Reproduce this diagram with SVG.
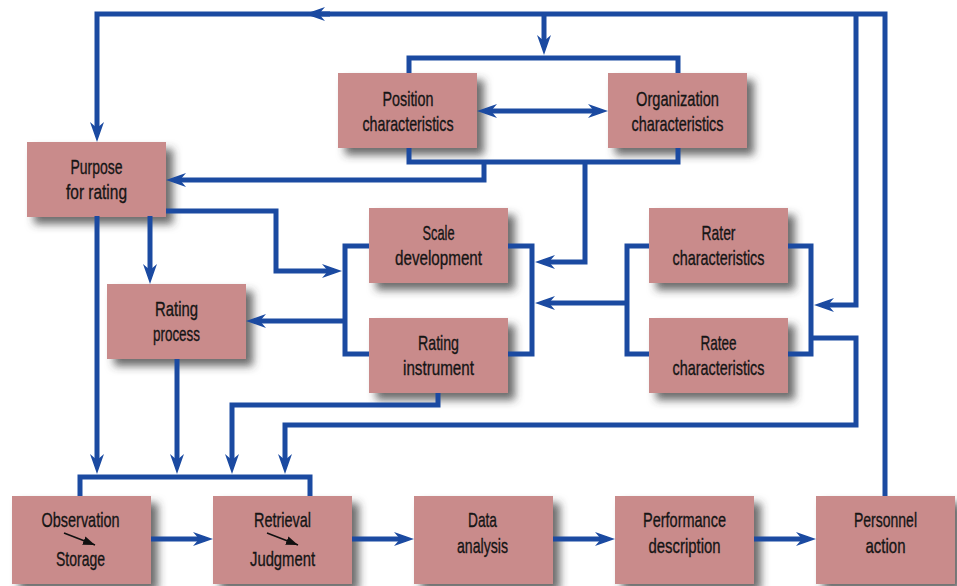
<svg xmlns="http://www.w3.org/2000/svg" width="957" height="586" viewBox="0 0 957 586">
  <defs>
    <filter id="shadow" x="-10%" y="-10%" width="130%" height="140%">
      <feDropShadow dx="7" dy="7" stdDeviation="4" flood-color="#3a3a3a" flood-opacity="0.75"/>
    </filter>
    <marker id="arrow" viewBox="0 -8 22 16" refX="12" refY="0" markerWidth="22" markerHeight="16" markerUnits="userSpaceOnUse" orient="auto-start-reverse">
      <path d="M0,-7 L20,0 L0,7 L6,0 Z" fill="#1b4aa1"/>
    </marker>
    <marker id="tiny" viewBox="0 -5 12 10" refX="12" refY="0" markerWidth="12" markerHeight="10" markerUnits="userSpaceOnUse" orient="auto">
      <path d="M0,-4.5 L12,0 L0,4.5 Z" fill="#111"/>
    </marker>
  </defs>
  <style>
    .box { fill: #c98b8b; filter: url(#shadow); }
    .lbl { font-family: "Liberation Sans", "DejaVu Sans Condensed", sans-serif; font-size: 21px; fill: #151515; stroke: #151515; stroke-width: 0.35; text-anchor: middle; }
    .c { fill: none; stroke: #1b4aa1; stroke-width: 5; stroke-linejoin: miter; }
    .a { marker-end: url(#arrow); }
    .step { stroke: #111; stroke-width: 1.6; fill: none; marker-end: url(#tiny); }
  </style>

  <!-- nodes -->
  <g id="purpose">
    <rect class="box" x="27" y="142" width="139" height="75"/>
    <text class="lbl" x="96.5" y="174" textLength="52" lengthAdjust="spacingAndGlyphs">Purpose</text>
    <text class="lbl" x="96.5" y="199" textLength="61" lengthAdjust="spacingAndGlyphs">for rating</text>
  </g>
  <g id="position">
    <rect class="box" x="338" y="73" width="139" height="75"/>
    <text class="lbl" x="408" y="106" textLength="51" lengthAdjust="spacingAndGlyphs">Position</text>
    <text class="lbl" x="408" y="131" textLength="91" lengthAdjust="spacingAndGlyphs">characteristics</text>
  </g>
  <g id="organization">
    <rect class="box" x="608" y="73" width="139" height="75"/>
    <text class="lbl" x="677.5" y="106" textLength="83" lengthAdjust="spacingAndGlyphs">Organization</text>
    <text class="lbl" x="677.5" y="131" textLength="92" lengthAdjust="spacingAndGlyphs">characteristics</text>
  </g>
  <g id="scale">
    <rect class="box" x="369" y="208" width="139" height="75"/>
    <text class="lbl" x="438.5" y="240" textLength="32" lengthAdjust="spacingAndGlyphs">Scale</text>
    <text class="lbl" x="438.5" y="265" textLength="87" lengthAdjust="spacingAndGlyphs">development</text>
  </g>
  <g id="instrument">
    <rect class="box" x="369" y="318" width="139" height="75"/>
    <text class="lbl" x="438.5" y="350" textLength="41" lengthAdjust="spacingAndGlyphs">Rating</text>
    <text class="lbl" x="438.5" y="375" textLength="71" lengthAdjust="spacingAndGlyphs">instrument</text>
  </g>
  <g id="process">
    <rect class="box" x="107" y="284" width="139" height="75"/>
    <text class="lbl" x="176.5" y="316" textLength="43" lengthAdjust="spacingAndGlyphs">Rating</text>
    <text class="lbl" x="176.5" y="341" textLength="47" lengthAdjust="spacingAndGlyphs">process</text>
  </g>
  <g id="rater">
    <rect class="box" x="649" y="208" width="139" height="75"/>
    <text class="lbl" x="718.5" y="240" textLength="34" lengthAdjust="spacingAndGlyphs">Rater</text>
    <text class="lbl" x="718.5" y="265" textLength="92" lengthAdjust="spacingAndGlyphs">characteristics</text>
  </g>
  <g id="ratee">
    <rect class="box" x="649" y="318" width="139" height="75"/>
    <text class="lbl" x="718.5" y="350" textLength="36" lengthAdjust="spacingAndGlyphs">Ratee</text>
    <text class="lbl" x="718.5" y="375" textLength="92" lengthAdjust="spacingAndGlyphs">characteristics</text>
  </g>
  <g id="observation">
    <rect class="box" x="12" y="496" width="139" height="88"/>
    <text class="lbl" x="80.5" y="527" textLength="78" lengthAdjust="spacingAndGlyphs">Observation</text>
    <path class="step" d="M64,533 L95,545"/>
    <text class="lbl" x="80.5" y="566" textLength="49" lengthAdjust="spacingAndGlyphs">Storage</text>
  </g>
  <g id="retrieval">
    <rect class="box" x="213" y="496" width="139" height="88"/>
    <text class="lbl" x="282.5" y="527" textLength="57" lengthAdjust="spacingAndGlyphs">Retrieval</text>
    <path class="step" d="M267,533 L298,545"/>
    <text class="lbl" x="282.5" y="566" textLength="65" lengthAdjust="spacingAndGlyphs">Judgment</text>
  </g>
  <g id="analysis">
    <rect class="box" x="414" y="496" width="139" height="88"/>
    <text class="lbl" x="482.5" y="527" textLength="29" lengthAdjust="spacingAndGlyphs">Data</text>
    <text class="lbl" x="482.5" y="553" textLength="51" lengthAdjust="spacingAndGlyphs">analysis</text>
  </g>
  <g id="description">
    <rect class="box" x="615" y="496" width="139" height="88"/>
    <text class="lbl" x="684.5" y="527" textLength="83" lengthAdjust="spacingAndGlyphs">Performance</text>
    <text class="lbl" x="684.5" y="553" textLength="72" lengthAdjust="spacingAndGlyphs">description</text>
  </g>
  <g id="personnel">
    <rect class="box" x="816" y="496" width="139" height="88"/>
    <text class="lbl" x="885.5" y="527" textLength="63" lengthAdjust="spacingAndGlyphs">Personnel</text>
    <text class="lbl" x="885.5" y="553" textLength="40" lengthAdjust="spacingAndGlyphs">action</text>
  </g>

  <!-- connectors -->
  <g id="connectors">
    <!-- feedback loop from personnel action -->
    <path class="c a" d="M885,496 V14 H97 V134"/>
    <path class="c a" d="M330,14 H313"/>
    <path class="c a" d="M544,14 V47"/>
    <path class="c a" d="M856,14 V305 H822"/>
    <!-- position / organization brackets -->
    <path class="c" d="M409,73 V58 H678 V73"/>
    <path class="c" d="M409,148 V162 H678 V148"/>
    <path class="c a" d="M485,111 H600" marker-start="url(#arrow)"/>
    <path class="c a" d="M484,162 V180 H174"/>
    <path class="c a" d="M585,162 V262 H543"/>
    <!-- scale / instrument brackets -->
    <path class="c" d="M508,246 H532 V354 H508"/>
    <path class="c" d="M369,246 H345 V354 H369"/>
    <path class="c a" d="M166,211 H276 V271 H334"/>
    <path class="c a" d="M345,321 H254"/>
    <!-- rater / ratee brackets -->
    <path class="c" d="M649,246 H627 V354 H649"/>
    <path class="c" d="M788,246 H811 V354 H788"/>
    <path class="c a" d="M627,303 H543"/>
    <path class="c a" d="M811,338 H856 V425 H285 V466"/>
    <!-- into observation / retrieval -->
    <path class="c a" d="M150,216 V276"/>
    <path class="c a" d="M97,216 V466"/>
    <path class="c a" d="M177,359 V466"/>
    <path class="c a" d="M438,393 V405 H232 V466"/>
    <path class="c" d="M80,496 V477 H310 V496"/>
    <!-- bottom chain -->
    <path class="c a" d="M151,539 H205"/>
    <path class="c a" d="M352,539 H406"/>
    <path class="c a" d="M553,539 H607"/>
    <path class="c a" d="M754,539 H808"/>
  </g>
</svg>
